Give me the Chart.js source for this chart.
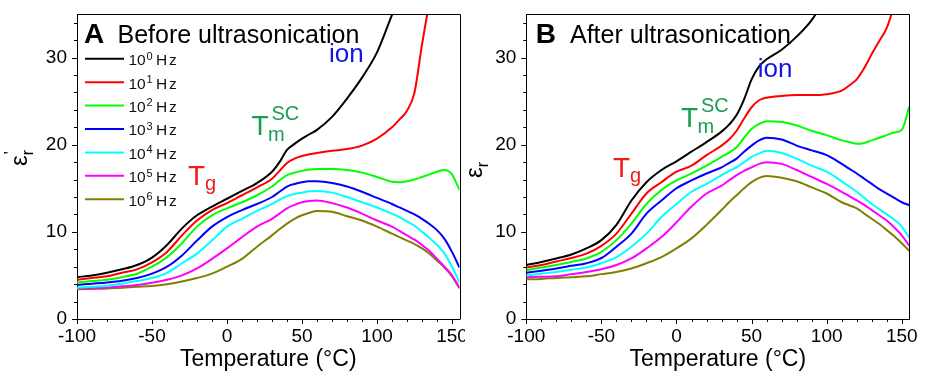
<!DOCTYPE html>
<html>
<head>
<meta charset="utf-8">
<script src="https://cdn.jsdelivr.net/npm/chart.js@4.4.1/dist/chart.umd.min.js"></script>
<style>
  html, body { margin: 0; padding: 0; background: #fff; }
  #wrap { position: relative; width: 930px; height: 384px; }
  .panel { position: absolute; top: 0; width: 465px; height: 384px; }
</style>
</head>
<body>
<div id="wrap">
  <div class="panel" style="left:0"><canvas id="chartA" width="465" height="384"></canvas></div>
  <div class="panel" style="left:465px"><canvas id="chartB" width="465" height="384"></canvas></div>
</div>
<script>
'use strict';

// temperature grid (°C)
const temps = [-100, -90, -80, -70, -60, -50, -40, -30, -20, -10, 0, 10, 20, 30, 35, 40, 45, 50, 55, 60,
  70, 80, 90, 100, 110, 115, 120, 125, 130, 135, 140, 145, 150, 155];

const freqExponents = ['0', '1', '2', '3', '4', '5', '6'];
const freqColors = ['#000000', '#ff0000', '#00ff00', '#0000ff', '#00ffff', '#ff00ff', '#808000'];

// A: before ultrasonication
const before1Hz = [4.8, 5.0, 5.3, 5.7, 6.2, 7.05, 8.5, 10.4, 11.9, 12.9, 13.8, 14.7, 15.6, 16.9, 18.0, 19.4, 20.1, 20.7, 21.2, 21.7,
  23.2, 25.3, 27.7, 30.6, 34.9, 37.0, null, null, null, null, null, null, null, null];
const before10Hz = [4.5, 4.7, 4.9, 5.3, 5.7, 6.5, 7.7, 9.6, 11.3, 12.5, 13.3, 14.2, 15.1, 16.1, 17.0, 17.9, 18.4, 18.7, 18.9, 19.05,
  19.3, 19.5, 19.9, 20.7, 22.0, 22.9, 23.9, 26.0, 31.5, 36.5, null, null, null, null];
const before100Hz = [4.2, 4.35, 4.5, 4.8, 5.2, 6.0, 7.1, 8.7, 10.6, 11.9, 12.7, 13.4, 14.2, 15.2, 15.9, 16.5, 16.8, 17.0, 17.15, 17.2,
  17.2, 17.1, 16.8, 16.3, 15.75, 15.7, 15.8, 16.0, 16.3, 16.6, 16.9, 17.1, 16.6, 14.8];
const before1kHz = [3.9, 4.05, 4.2, 4.4, 4.7, 5.2, 6.0, 7.3, 9.0, 10.6, 11.7, 12.5, 13.2, 14.0, 14.6, 15.2, 15.5, 15.7, 15.8, 15.8,
  15.6, 15.2, 14.6, 13.9, 13.2, 12.8, 12.4, 12.0, 11.5, 10.9, 10.2, 9.2, 7.7, 5.9];
const before10kHz = [3.6, 3.7, 3.8, 4.05, 4.35, 4.7, 5.3, 6.4, 7.5, 9.0, 10.6, 11.5, 12.4, 13.2, 13.7, 14.1, 14.35, 14.5, 14.65, 14.7,
  14.5, 14.0, 13.4, 12.8, 12.1, 11.7, 11.2, 10.7, 10.0, 9.3, 8.5, 7.5, 6.0, 4.2];
const before100kHz = [3.5, 3.55, 3.6, 3.75, 3.9, 4.15, 4.5, 5.0, 5.8, 6.9, 8.1, 9.4, 10.6, 11.5, 12.1, 12.7, 13.1, 13.4, 13.55, 13.6,
  13.3, 12.8, 12.1, 11.3, 10.6, 10.1, 9.6, 9.1, 8.5, 7.8, 6.9, 6.0, 5.0, 3.6];
const before1MHz = [3.4, 3.45, 3.5, 3.6, 3.7, 3.8, 4.0, 4.3, 4.7, 5.2, 6.0, 6.9, 8.3, 9.6, 10.3, 10.95, 11.5, 11.9, 12.2, 12.4,
  12.3, 11.8, 11.3, 10.6, 9.8, 9.4, 9.0, 8.6, 8.1, 7.5, 6.7, 5.9, 4.9, 3.5];

// B: after ultrasonication
const after1Hz = [6.2, 6.55, 6.95, 7.4, 8.1, 9.05, 10.8, 13.6, 15.7, 17.1, 18.1, 19.2, 20.3, 21.5, 22.3, 23.4, 25.2, 27.5, 29.0, 29.8,
  30.9, 32.4, 34.3, 37.0, null, null, null, null, null, null, null, null, null, null];
const after10Hz = [5.9, 6.2, 6.6, 7.0, 7.5, 8.4, 9.8, 12.1, 14.4, 15.7, 16.9, 17.6, 18.8, 19.9, 20.6, 21.6, 23.0, 24.3, 25.1, 25.4,
  25.6, 25.7, 25.7, 25.8, 26.2, 26.8, 27.5, 28.8, 30.4, 31.9, 33.4, 36.0, null, null];
const after100Hz = [5.6, 5.9, 6.2, 6.55, 6.95, 7.7, 9.05, 10.95, 13.2, 14.8, 15.9, 16.7, 17.6, 18.6, 19.1, 19.7, 20.8, 21.8, 22.4, 22.7,
  22.6, 22.2, 21.6, 21.1, 20.5, 20.3, 20.1, 20.2, 20.5, 20.8, 21.1, 21.4, 21.7, 24.4];
const after1kHz = [5.3, 5.55, 5.8, 6.1, 6.4, 7.0, 8.3, 9.8, 12.1, 13.6, 15.0, 15.9, 16.7, 17.4, 17.9, 18.4, 19.2, 19.9, 20.5, 20.8,
  20.6, 19.9, 19.35, 18.8, 17.8, 17.25, 16.7, 16.1, 15.5, 14.9, 14.4, 13.9, 13.4, 13.05];
const after10kHz = [5.0, 5.2, 5.4, 5.65, 5.9, 6.4, 7.1, 8.3, 9.8, 11.7, 13.2, 14.6, 15.5, 16.5, 17.0, 17.4, 18.0, 18.6, 19.0, 19.3,
  19.05, 18.4, 17.6, 16.9, 15.8, 15.2, 14.6, 13.9, 13.2, 12.6, 12.0, 11.4, 10.6, 9.3];
const after100kHz = [4.8, 4.85, 4.9, 5.15, 5.4, 5.7, 6.2, 6.95, 8.1, 9.4, 11.1, 12.9, 14.4, 15.3, 15.9, 16.5, 17.0, 17.4, 17.8, 18.0,
  17.8, 17.1, 16.3, 15.5, 14.6, 14.1, 13.6, 13.1, 12.5, 11.9, 11.3, 10.5, 9.6, 8.4];
const after1MHz = [4.55, 4.6, 4.7, 4.8, 4.9, 5.15, 5.4, 5.8, 6.4, 7.1, 8.1, 9.25, 10.8, 12.5, 13.4, 14.2, 15.0, 15.7, 16.2, 16.4,
  16.2, 15.8, 15.1, 14.4, 13.4, 13.05, 12.7, 12.1, 11.5, 10.9, 10.2, 9.5, 8.7, 7.8];

const xTickValues = [-100, -50, 0, 50, 100, 150];
const yTickValues = [0, 10, 20, 30];

const FONT = '"Liberation Sans", Arial, sans-serif';

function buildDatasets(seriesList) {
  return seriesList.map((vals, i) => ({
    label: '10^' + freqExponents[i] + ' Hz',
    data: temps.map((t, k) => ({ x: t, y: vals[k] })),
    borderColor: freqColors[i],
    backgroundColor: freqColors[i],
    borderWidth: 2,
    pointRadius: 0,
    fill: false,
    cubicInterpolationMode: 'monotone',
    spanGaps: false
  }));
}

function text(ctx, s, x, y, size, color, bold) {
  ctx.font = (bold ? 'bold ' : '') + size + 'px ' + FONT;
  ctx.fillStyle = color;
  ctx.textAlign = 'left';
  ctx.textBaseline = 'alphabetic';
  ctx.fillText(s, x, y);
}

// frame, minor ticks, y label, annotations and (panel A) legend
function decorPlugin(panel) {
  return {
    id: 'decor' + panel.letter,
    afterDraw(chart) {
      const ctx = chart.ctx;
      const area = chart.chartArea;
      const xs = chart.scales.x;
      const ys = chart.scales.y;
      ctx.save();

      // top and right frame
      ctx.strokeStyle = '#000';
      ctx.lineWidth = 1;
      ctx.beginPath();
      ctx.moveTo(Math.round(area.left) + 0.5, Math.round(area.top) + 0.5);
      ctx.lineTo(Math.round(area.right) + 0.5, Math.round(area.top) + 0.5);
      ctx.lineTo(Math.round(area.right) + 0.5, Math.round(area.bottom) + 0.5);
      ctx.stroke();

      // tick marks (outside)
      ctx.beginPath();
      for (let v = -100; v <= 150; v += 10) {
        const px = Math.round(xs.getPixelForValue(v)) + 0.5;
        const len = v % 50 === 0 ? 5 : 3;
        ctx.moveTo(px, area.bottom);
        ctx.lineTo(px, area.bottom + len);
      }
      for (let v = 0; v <= 34; v += 2) {
        const py = Math.round(ys.getPixelForValue(v)) + 0.5;
        const len = v % 10 === 0 ? 5 : 3;
        ctx.moveTo(area.left, py);
        ctx.lineTo(area.left - len, py);
      }
      ctx.stroke();

      // y axis title: epsilon_r'
      ctx.save();
      ctx.translate(panel.yLabel.x, panel.yLabel.y);
      ctx.rotate(-Math.PI / 2);
      text(ctx, 'ε', 0, 0, 24, '#000');
      const ew = ctx.measureText('ε').width;
      text(ctx, 'r', ew, 6, 16, '#000');
      text(ctx, "'", ew + 1, -11, 16, '#000');
      ctx.restore();

      // panel heading
      text(ctx, panel.letter, panel.head.x, panel.head.y, 28, '#000', true);
      text(ctx, panel.title, panel.head.tx, panel.head.y, 25, '#000');

      // annotations
      const a = panel.notes;
      text(ctx, 'ion', a.ion.x, a.ion.y, 26, '#1414e6');
      text(ctx, 'T', a.tm.x, a.tm.y, 28, '#1a9e50');
      text(ctx, 'm', a.tm.x + 16.5, a.tm.y + 6, 20, '#1a9e50');
      text(ctx, 'SC', a.tm.x + 20, a.tm.y - 14.5, 20, '#1a9e50');
      text(ctx, 'T', a.tg.x, a.tg.y, 28, '#ee1c1c');
      text(ctx, 'g', a.tg.x + 17, a.tg.y + 5, 20, '#ee1c1c');

      // legend
      if (panel.legend) {
        chart.data.datasets.forEach((ds, i) => {
          const ly = 58.7 + i * 23.43;
          ctx.strokeStyle = ds.borderColor;
          ctx.lineWidth = 2;
          ctx.beginPath();
          ctx.moveTo(85, ly);
          ctx.lineTo(124, ly);
          ctx.stroke();
          text(ctx, '10', 128.5, ly + 6.5, 15.5, '#111');
          text(ctx, freqExponents[i], 146.5, ly + 0.8, 11, '#111');
          text(ctx, 'H', 156, ly + 6.5, 15.5, '#111');
          text(ctx, 'z', 169, ly + 6.5, 15.5, '#111');
        });
      }
      ctx.restore();
    }
  };
}

function makeChart(canvasId, seriesList, panel) {
  const config = {
    type: 'line',
    data: { datasets: buildDatasets(seriesList) },
    options: {
      responsive: false,
      animation: false,
      layout: { padding: { left: 0, right: panel.padRight, top: 14, bottom: 0 } },
      plugins: { legend: { display: false }, tooltip: { enabled: false } },
      scales: {
        x: {
          type: 'linear',
          min: -100,
          max: 155,
          border: { display: true, color: '#000', width: 1 },
          grid: { display: true, drawOnChartArea: false, drawTicks: false },
          afterBuildTicks: scale => { scale.ticks = xTickValues.map(v => ({ value: v })); },
          ticks: { color: '#000', font: { family: FONT, size: 19 }, padding: 6, maxRotation: 0, autoSkip: false },
          title: {
            display: true,
            text: 'Temperature (°C)',
            color: '#000',
            font: { family: FONT, size: 23 },
            padding: { top: 0, bottom: 11 }
          },
          afterFit: scale => {
            scale.height = 65;
            scale.paddingLeft = 0;
            scale.paddingRight = 0;
          }
        },
        y: {
          type: 'linear',
          min: 0,
          max: 35,
          border: { display: true, color: '#000', width: 1 },
          grid: { display: true, drawOnChartArea: false, drawTicks: false },
          afterBuildTicks: scale => { scale.ticks = yTickValues.map(v => ({ value: v })); },
          ticks: { color: '#000', font: { family: FONT, size: 19 }, padding: 10 },
          afterFit: scale => {
            scale.width = panel.yWidth;
            scale.paddingTop = 0;
            scale.paddingBottom = 0;
          }
        }
      }
    },
    plugins: [decorPlugin(panel)]
  };
  return new Chart(document.getElementById(canvasId), config);
}

makeChart('chartA',
  [before1Hz, before10Hz, before100Hz, before1kHz, before10kHz, before100kHz, before1MHz],
  {
    letter: 'A', title: 'Before ultrasonication', legend: true,
    yWidth: 77, padRight: 5.5,
    yLabel: { x: 27, y: 166 },
    head: { x: 84, tx: 117.5, y: 43 },
    notes: { ion: { x: 329, y: 62 }, tm: { x: 251.5, y: 134.5 }, tg: { x: 188, y: 185 } }
  });

makeChart('chartB',
  [after1Hz, after10Hz, after100Hz, after1kHz, after10kHz, after100kHz, after1MHz],
  {
    letter: 'B', title: 'After ultrasonication', legend: false,
    yWidth: 61.3, padRight: 20.7,
    yLabel: { x: 16.7, y: 178 },
    head: { x: 70.7, tx: 105, y: 43 },
    notes: { ion: { x: 292.7, y: 77.3 }, tm: { x: 216, y: 126.7 }, tg: { x: 148, y: 176.7 } }
  });
</script>
</body>
</html>
